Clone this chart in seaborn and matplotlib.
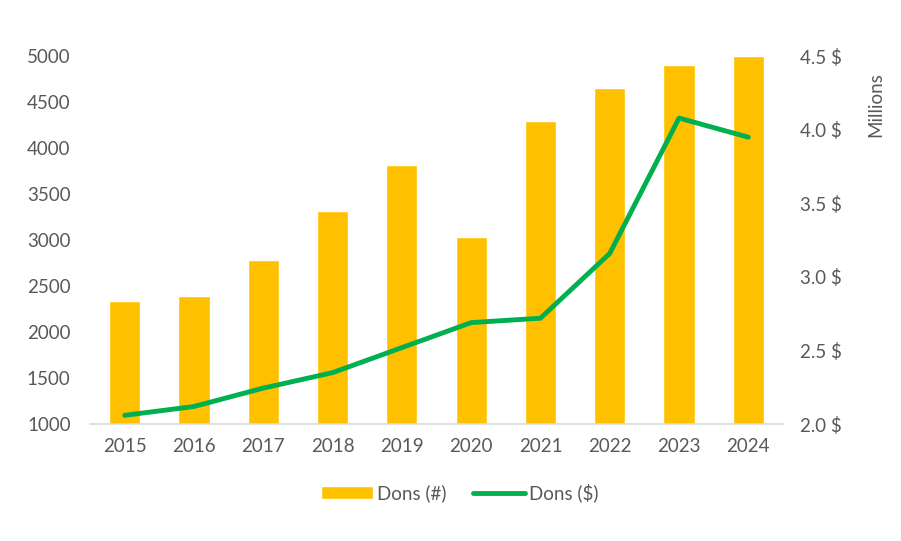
import numpy as np
import pandas as pd
import matplotlib.pyplot as plt
import seaborn as sns
from matplotlib.patches import Patch
from matplotlib.lines import Line2D

# data
years = ["2015", "2016", "2017", "2018", "2019", "2020", "2021", "2022", "2023", "2024"]
dons_count = [2340, 2390, 2790, 3315, 3815, 3030, 4300, 4650, 4900, 5000]
dons_amount = [2.06, 2.12, 2.245, 2.35, 2.52, 2.69, 2.72, 3.16, 4.08, 3.95]  # millions $

df = pd.DataFrame({"year": years, "count": dons_count, "amount": dons_amount})
df["pos"] = np.arange(len(df))

bar_color = "#FFC000"
line_color = "#00B050"
text_color = "#595959"

sns.set_style("white")
plt.rcParams["font.family"] = ["Lato", "DejaVu Sans"]

fig = plt.figure(figsize=(9.01, 5.41), dpi=100)
ax = fig.add_axes([0.1, 0.216, 0.769, 0.68])

sns.barplot(data=df, x="year", y="count", color=bar_color, width=0.45,
            saturation=1, ax=ax)
ax.set_ylim(1000, 5000)
ax.set_yticks(range(1000, 5001, 500))
ax.set_xlim(-0.5, len(years) - 0.5)

ax2 = ax.twinx()
sns.lineplot(data=df, x="pos", y="amount", color=line_color, linewidth=3.5,
             ax=ax2)
ax2.set_ylim(2.0, 4.5)
ax2.set_yticks(np.arange(2.0, 4.51, 0.5))
ax2.set_yticklabels([f"{v:.1f} $" for v in np.arange(2.0, 4.51, 0.5)])
ax2.set_ylabel("Millions", color=text_color, fontsize=13.5)
ax2.yaxis.set_label_coords(1.122, 0.87)

for a in (ax, ax2):
    for s in a.spines.values():
        s.set_visible(False)
    a.tick_params(length=0, labelsize=13.5, labelcolor=text_color)
    a.set_xlabel("")
ax.set_ylabel("")
ax.spines["bottom"].set_visible(True)
ax.spines["bottom"].set_color("#D9D9D9")
ax.spines["bottom"].set_linewidth(1.2)
ax.tick_params(axis="x", pad=10)
ax.tick_params(axis="y", pad=14)
ax2.tick_params(axis="y", pad=12)

handles = [Patch(facecolor=bar_color, label="Dons (#)"),
           Line2D([0], [0], color=line_color, linewidth=3.5, label="Dons ($)")]
fig.legend(handles=handles, loc="lower center", bbox_to_anchor=(0.51, 0.04),
           ncol=2, frameon=False, fontsize=13.5, labelcolor=text_color,
           handlelength=2.8, handletextpad=0.2, columnspacing=1.4)

fig.savefig("out.png", dpi=100)
